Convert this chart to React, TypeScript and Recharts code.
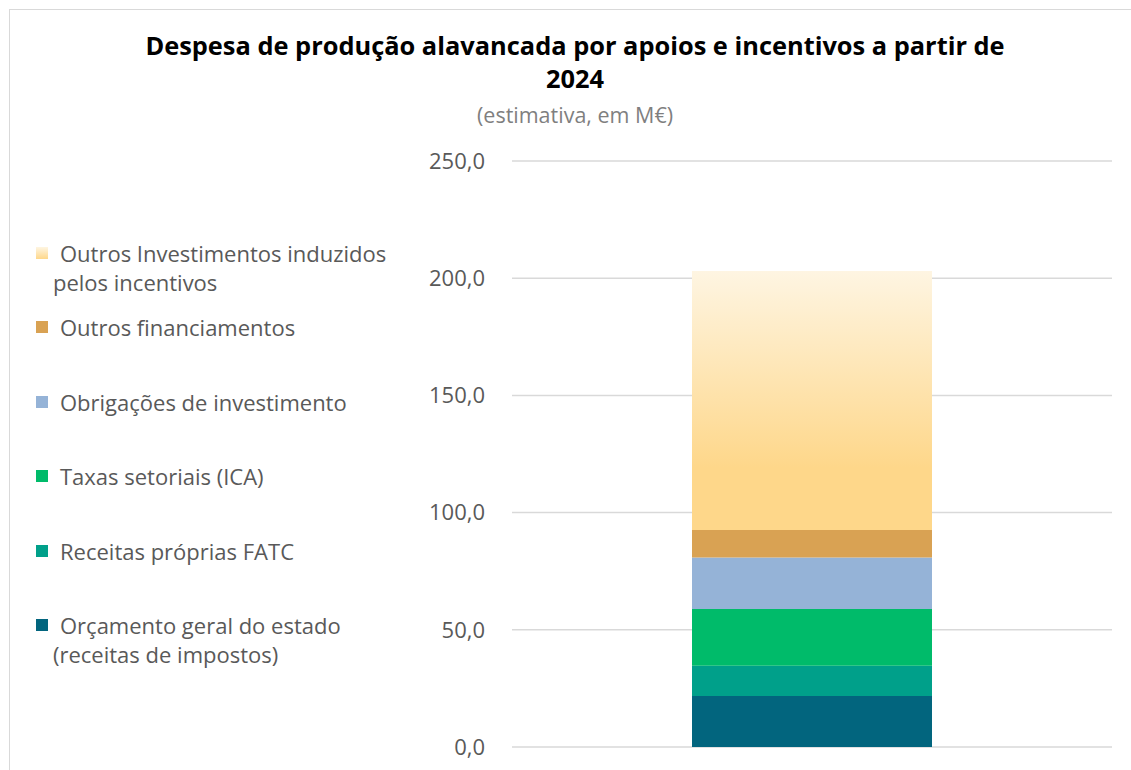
import { BarChart, Bar, XAxis, YAxis, CartesianGrid } from 'recharts'

const categories = ['2024']
const seriesNames = [
  'Orçamento geral do estado (receitas de impostos)',
  'Receitas próprias FATC',
  'Taxas setoriais (ICA)',
  'Obrigações de investimento',
  'Outros financiamentos',
  'Outros Investimentos induzidos pelos incentivos',
]
const seriesKeys = ['oge', 'fatc', 'ica', 'obrig', 'outrosFin', 'outrosInv']
const seriesValues = [21.8, 12.9, 24.2, 21.9, 11.8, 110.5]
const seriesColors = ['#02657E', '#00A08A', '#00BB6A', '#95B3D7', '#D9A253', 'url(#gradOutros)']
const legendColors = ['#02657E', '#00A08A', '#00BB6A', '#95B3D7', '#D9A253', '#FEDC9A']
const yTicks = [0, 50, 100, 150, 200, 250]

const FONT = '"Open Sans", Roboto, sans-serif'

const data = categories.map((name) => {
  const row: Record<string, string | number> = { name }
  seriesKeys.forEach((k, i) => {
    row[k] = seriesValues[i]
  })
  return row
})

// legend is drawn top-down in reverse order of the stack
const legendLines: Record<string, string[]> = {
  outrosInv: ['Outros Investimentos induzidos', 'pelos incentivos'],
  oge: ['Orçamento geral do estado', '(receitas de impostos)'],
}

function SideLegend() {
  const order = [...seriesKeys.keys()].reverse()
  return (
    <div style={{ position: 'absolute', left: 10, top: 233, width: 400, height: 480, fontFamily: FONT }}>
      {order.map((i, row) => {
        const key = seriesKeys[i]
        const lines = legendLines[key] ?? [seriesNames[i]]
        const top = row * 74.4
        return (
          <div key={key} style={{ position: 'absolute', left: 0, top, width: 400 }}>
            <span
              style={{
                position: 'absolute',
                left: 26,
                top: 14,
                width: 12,
                height: 12,
                background: i === 5 ? 'linear-gradient(#FEF5E2, #FED78A)' : legendColors[i],
              }}
            />
            {lines.map((line, j) => (
              <div
                key={j}
                style={{
                  position: 'absolute',
                  left: j === 0 ? 50 : 43,
                  top: j * 29,
                  lineHeight: '40px',
                  fontSize: 22,
                  color: '#595959',
                  whiteSpace: 'nowrap',
                }}
              >
                {line}
              </div>
            ))}
          </div>
        )
      })}
    </div>
  )
}

export default function App() {
  return (
    <div style={{ position: 'absolute', left: 0, top: 0, width: 1131, height: 770, background: '#fff', overflow: 'hidden' }}>
      <div
        style={{
          position: 'absolute',
          left: 9,
          top: 9,
          width: 1140,
          height: 780,
          border: '1.5px solid #D9D9D9',
        }}
      />
      <div
        style={{
          position: 'absolute',
          left: 0,
          width: 1150,
          top: 29,
          textAlign: 'center',
          fontFamily: FONT,
          fontWeight: 700,
          fontSize: 25.4,
          lineHeight: '33px',
          color: '#000',
        }}
      >
        Despesa de produção alavancada por apoios e incentivos a partir de
        <br />
        2024
      </div>
      <div
        style={{
          position: 'absolute',
          left: 0,
          width: 1150,
          top: 100,
          textAlign: 'center',
          fontFamily: FONT,
          fontSize: 21.5,
          color: '#7F7F7F',
        }}
      >
        (estimativa, em M€)
      </div>
      <SideLegend />
      <BarChart
        width={1131}
        height={770}
        data={data}
        margin={{ top: 161, right: 19, bottom: 23, left: 412 }}
        barCategoryGap="30%"
        style={{ position: 'absolute', left: 0, top: 0 }}
      >
        <defs>
          <linearGradient id="gradOutros" x1="0" y1="0" x2="0" y2="1">
            <stop offset="0%" stopColor="#FEF5E2" />
            <stop offset="76%" stopColor="#FED78A" />
            <stop offset="100%" stopColor="#FED78A" />
          </linearGradient>
        </defs>
        <CartesianGrid vertical={false} stroke="#D9D9D9" strokeWidth={1.5} />
        <XAxis dataKey="name" hide />
        <YAxis
          width={100}
          domain={[0, 250]}
          ticks={yTicks}
          axisLine={false}
          tickLine={false}
          tickSize={0}
          tickMargin={27}
          tickFormatter={(v: number) => v.toFixed(1).replace('.', ',')}
          tick={{ fontSize: 22, fill: '#595959', fontFamily: FONT }}
        />
        {seriesKeys.map((k, i) => (
          <Bar key={k} dataKey={k} name={seriesNames[i]} stackId="a" fill={seriesColors[i]} isAnimationActive={false} />
        ))}
      </BarChart>
    </div>
  )
}
